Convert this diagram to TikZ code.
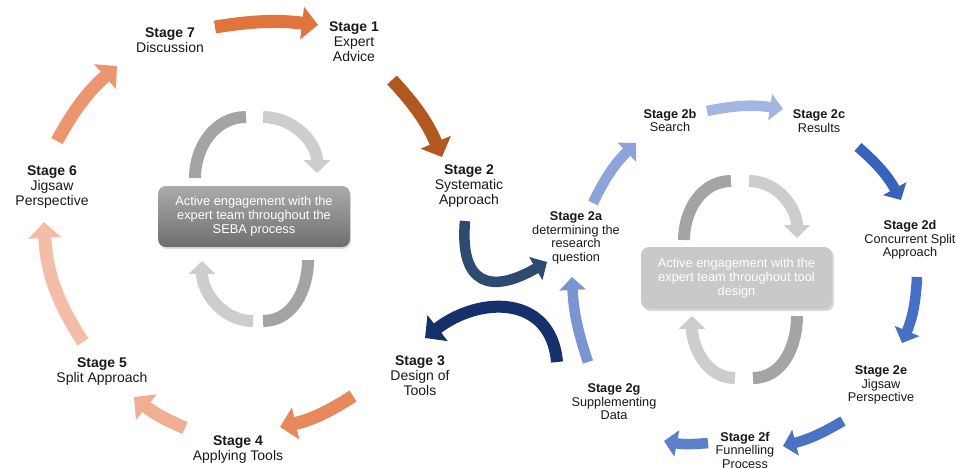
\documentclass[tikz,border=0pt]{standalone}
\usepackage{fontspec}
\setmainfont{Liberation Sans}
\usetikzlibrary{
    arrows.meta,
    shadows,
}
\definecolor{sebaA}{HTML}{E0743D}
\definecolor{sebaB}{HTML}{B0581F}
\definecolor{sebaC}{HTML}{E8895C}
\definecolor{sebaD}{HTML}{F0AE93}
\definecolor{sebaE}{HTML}{F3BDA8}
\definecolor{sebaF}{HTML}{EC9670}
\definecolor{slateA}{HTML}{2E4A70}
\definecolor{navyA}{HTML}{16306B}
\definecolor{toolA}{HTML}{8CA4D9}
\definecolor{toolB}{HTML}{A3B6E2}
\definecolor{toolC}{HTML}{3763BA}
\definecolor{toolD}{HTML}{4570C3}
\definecolor{toolE}{HTML}{4B73C4}
\definecolor{toolF}{HTML}{5B7FC9}
\definecolor{toolG}{HTML}{7A95D1}
\definecolor{greyDark}{HTML}{A4A4A4}
\definecolor{greyLight}{HTML}{CDCDCD}
\definecolor{boxGrey}{HTML}{C9C9C9}

\begin{document}
\begin{tikzpicture}[x=1pt, y=-1pt,
    stage/.style={align=center, inner sep=0pt, text=black!90, font=\fontsize{14}{15}\selectfont},
    substage/.style={align=center, inner sep=0pt, text=black!90, font=\fontsize{12.7}{13.5}\selectfont},
    flow/.style={draw=#1, line width=13pt, -{Triangle[length=16pt,width=32pt]}},
    subflow/.style={draw=#1, line width=10.5pt, -{Triangle[length=13pt,width=26pt]}},
    loopbar/.style={draw=#1, line width=12pt},
    looparrow/.style={draw=#1, line width=12pt, -{Triangle[length=13pt,width=26pt]}},
    engage/.style={rounded corners=8pt, minimum width=192pt, minimum height=61pt,
        align=center, text=white, font=\fontsize{12.8}{14}\selectfont}]
    \useasboundingbox (0,0) rectangle (957,467);

    % SEBA stages
    \node[stage] (s7) at (170,40.5) {\textbf{Stage 7}\\Discussion};
    \node[stage] (s1) at (354,41.5) {\textbf{Stage 1}\\Expert\\Advice};
    \node[stage] (s2) at (469,186) {\textbf{Stage 2}\\Systematic\\Approach};
    \node[stage] (s3) at (420,376) {\textbf{Stage 3}\\Design of\\Tools};
    \node[stage] (s4) at (238,450) {\textbf{Stage 4}\\Applying Tools};
    \node[stage] (s5) at (102,372) {\textbf{Stage 5}\\Split Approach};
    \node[stage] (s6) at (52,187) {\textbf{Stage 6}\\Jigsaw\\Perspective};

    % tool design stages
    \node[substage] (s2a) at (576,238) {\textbf{Stage 2a}\\determining the\\research\\question};
    \node[substage] (s2b) at (670,120.5) {\textbf{Stage 2b}\\Search};
    \node[substage] (s2c) at (819,121) {\textbf{Stage 2c}\\Results};
    \node[substage] (s2d) at (910,240) {\textbf{Stage 2d}\\Concurrent Split\\Approach};
    \node[substage] (s2e) at (881,385) {\textbf{Stage 2e}\\Jigsaw\\Perspective};
    \node[substage] (s2f) at (745,450) {\textbf{Stage 2f}\\Funnelling\\Process};
    \node[substage] (s2g) at (614,402) {\textbf{Stage 2g}\\Supplementing\\Data};

    % engagement boxes
    \node[engage, top color=black!33, bottom color=black!57,
        drop shadow={shadow xshift=1pt, shadow yshift=-2pt, opacity=0.25}] (eng) at (254,216.5)
        {Active engagement with the\\expert team throughout the\\SEBA process};
    \node[engage, fill=boxGrey, minimum width=191pt, minimum height=62pt,
        drop shadow={shadow xshift=2pt, shadow yshift=-2pt, opacity=0.3}] (engtool) at (736.5,278)
        {Active engagement with the\\expert team throughout tool\\design};

    % arrow ends
    \coordinate (out7) at (215,27);    \coordinate (in1) at (318,25);
    \coordinate (out1) at (392,80);    \coordinate (in2) at (442,157);
    \coordinate (out2) at (465,221);   \coordinate (in2a) at (547,262);
    \coordinate (out3) at (557,362);   \coordinate (in3) at (425,338);
    \coordinate (outt) at (353,396);   \coordinate (in4) at (280,427);
    \coordinate (out4) at (185,428);   \coordinate (in5) at (134,397);
    \coordinate (out5) at (83,342);    \coordinate (in6) at (44,222);
    \coordinate (out6) at (57,141);    \coordinate (in7) at (117,66);
    \coordinate (out2a) at (593,203);  \coordinate (in2b) at (636,143);
    \coordinate (out2b) at (707,111);  \coordinate (in2c) at (783,109);
    \coordinate (out2c) at (858,147);  \coordinate (in2d) at (901,200);
    \coordinate (out2d) at (917,277);  \coordinate (in2e) at (902,343);
    \coordinate (out2e) at (843,421);  \coordinate (in2f) at (783,446);
    \coordinate (out2f) at (708,443);  \coordinate (in2g) at (664,441);
    \coordinate (out2g) at (588,362);  \coordinate (back2a) at (572,277);

    % outer cycle
    \draw[flow=sebaA] (out7) to[bend left=8] (in1);
    \draw[flow=sebaB] (out1) to[bend left=10] (in2);
    \draw[flow=sebaC] (outt) to[bend left=10] (in4);
    \draw[flow=sebaD] (out4) to[bend left=8] (in5);
    \draw[flow=sebaE] (out5) to[bend left=15] (in6);
    \draw[flow=sebaF] (out6) to[bend left=10] (in7);

    % into and out of tool design
    \draw[subflow=slateA] (out2) to[out=-95, in=210, looseness=1.8] (in2a);
    \draw[flow=navyA, line width=12pt] (out3) to[out=95, in=38, looseness=1.3] (in3);

    % tool design cycle
    \draw[subflow=toolA] (out2a) to[bend left=10] (in2b);
    \draw[subflow=toolB] (out2b) to[bend left=10] (in2c);
    \draw[subflow=toolC] (out2c) to[bend left=10] (in2d);
    \draw[subflow=toolD] (out2d) to[bend left=10] (in2e);
    \draw[subflow=toolE] (out2e) to[bend left=8] (in2f);
    \draw[subflow=toolF] (out2f) to[bend left=8] (in2g);
    \draw[subflow=toolG] (out2g) to[bend left=8] (back2a);

    % grey loops round the boxes
    \draw[loopbar=greyDark] (195,178) to[out=90, in=180] (246,117);
    \draw[looparrow=greyLight] (263,117) to[out=0, in=90] (317,173);
    \draw[loopbar=greyDark] (308,260) to[out=-90, in=0] (263,321);
    \draw[looparrow=greyLight] (253,321) to[out=180, in=-90] (202,261);

    \draw[loopbar=greyDark] (684,240) to[out=90, in=180] (731,181);
    \draw[looparrow=greyLight] (749,181) to[out=0, in=90] (797,238);
    \draw[loopbar=greyDark] (797,316) to[out=-90, in=0] (753,378);
    \draw[looparrow=greyLight] (735,378) to[out=180, in=-90] (692,316);
\end{tikzpicture}
\end{document}
